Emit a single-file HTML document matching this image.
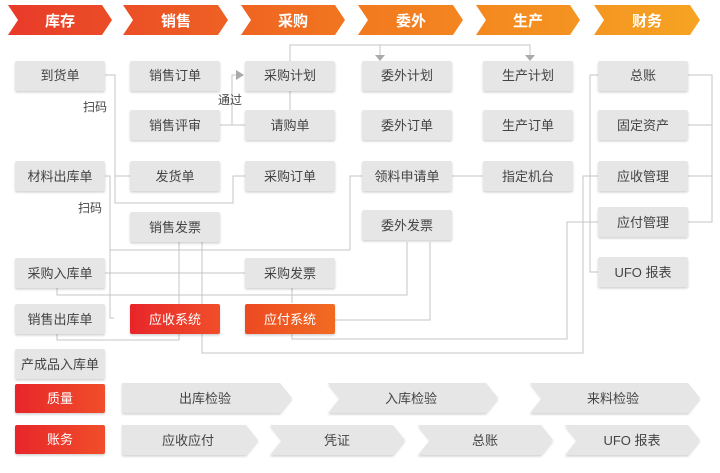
<!DOCTYPE html>
<html><head><meta charset="utf-8"><style>
body{margin:0;background:#fff;width:720px;height:468px;overflow:hidden}
svg text{font-family:"Liberation Sans","Noto Sans CJK SC",sans-serif}
</style></head><body>
<svg width="720" height="468" viewBox="0 0 720 468" xmlns="http://www.w3.org/2000/svg">
<defs>
<linearGradient id="hg" x1="0" x2="720" y1="0" y2="0" gradientUnits="userSpaceOnUse">
<stop offset="0" stop-color="#e8392a"/><stop offset="0.5" stop-color="#f2791f"/><stop offset="1" stop-color="#f6a623"/>
</linearGradient>
<linearGradient id="rg" x1="0" x2="1"><stop offset="0" stop-color="#e8262a"/><stop offset="1" stop-color="#f04e2c"/></linearGradient>
<linearGradient id="og" x1="0" x2="1"><stop offset="0" stop-color="#ec4a24"/><stop offset="1" stop-color="#f26b24"/></linearGradient>
<filter id="sh" x="-10%" y="-10%" width="120%" height="130%"><feDropShadow dx="0" dy="1.5" stdDeviation="1" flood-color="#000" flood-opacity="0.18"/></filter>
</defs>
<g fill="url(#hg)">
<polygon points="8,5 102,5 112,20 102,35 8,35 18,20"/>
<polygon points="123,5 218,5 228,20 218,35 123,35 133,20"/>
<polygon points="241,5 335,5 345,20 335,35 241,35 251,20"/>
<polygon points="358,5 453,5 463,20 453,35 358,35 368,20"/>
<polygon points="476,5 570,5 580,20 570,35 476,35 486,20"/>
<polygon points="594,5 690,5 700,20 690,35 594,35 604,20"/>
</g>
<g fill="#fff" font-size="15" font-weight="bold" text-anchor="middle">
<text x="60" y="26">库存</text><text x="176" y="26">销售</text><text x="293" y="26">采购</text>
<text x="411" y="26">委外</text><text x="528" y="26">生产</text><text x="647" y="26">财务</text>
</g>
<g stroke="#c4c4c4" stroke-width="1" fill="none">
<polyline points="290,61 290,45 530,45 530,55"/>
<line x1="380" y1="45" x2="380" y2="55"/>
<line x1="290" y1="91" x2="290" y2="110"/>
<polyline points="220,125 232,125 232,75 236,75"/>
<line x1="232" y1="125" x2="245" y2="125"/>
<polyline points="105,75 115,75 115,203 233,203 233,176 245,176"/>
<line x1="115" y1="176" x2="130" y2="176"/>
<polyline points="105,176 110,176 110,250 350,250 350,176 362,176"/>
<polyline points="110,250 110,318 114,318"/>
<line x1="452" y1="176" x2="483" y2="176"/>
<polyline points="179,242 179,340 57,340 57,334"/>
<polyline points="202,242 202,353 583,353 583,176 598,176"/>
<polyline points="292,334 292,339 567,339 567,222 598,222"/>
<polyline points="598,75 590,75 590,272 598,272"/>
<polyline points="688,75 712,75 712,222 688,222"/>
<line x1="688" y1="125" x2="712" y2="125"/>
<line x1="688" y1="176" x2="712" y2="176"/>
<line x1="105" y1="273" x2="245" y2="273"/>
<polyline points="57,288 57,295 407,295 407,242"/>
<polyline points="430,242 430,320 335,320"/>
<line x1="292" y1="288" x2="292" y2="303"/>
</g>
<g fill="#aaa">
<polygon points="375,55 385,55 380,61"/><polygon points="525,55 535,55 530,61"/>
<polygon points="236,70 236,80 244,75"/>
</g>
<g font-size="12" fill="#444"><text x="83" y="111">扫码</text><text x="78" y="212">扫码</text><text x="218" y="104">通过</text></g>
<g filter="url(#sh)" fill="#e6e6e6">
<rect x="15" y="61" width="90" height="30" rx="2"/>
<rect x="15" y="161" width="90" height="30" rx="2"/>
<rect x="15" y="258" width="90" height="30" rx="2"/>
<rect x="15" y="304" width="90" height="30" rx="2"/>
<rect x="15" y="349" width="90" height="30" rx="2"/>
<rect x="130" y="61" width="90" height="30" rx="2"/>
<rect x="130" y="110" width="90" height="30" rx="2"/>
<rect x="130" y="161" width="90" height="30" rx="2"/>
<rect x="130" y="212" width="90" height="30" rx="2"/>
<rect x="245" y="61" width="90" height="30" rx="2"/>
<rect x="245" y="110" width="90" height="30" rx="2"/>
<rect x="245" y="161" width="90" height="30" rx="2"/>
<rect x="245" y="258" width="90" height="30" rx="2"/>
<rect x="362" y="61" width="90" height="30" rx="2"/>
<rect x="362" y="110" width="90" height="30" rx="2"/>
<rect x="362" y="161" width="90" height="30" rx="2"/>
<rect x="362" y="210" width="90" height="30" rx="2"/>
<rect x="483" y="61" width="90" height="30" rx="2"/>
<rect x="483" y="110" width="90" height="30" rx="2"/>
<rect x="483" y="161" width="90" height="30" rx="2"/>
<rect x="598" y="61" width="90" height="30" rx="2"/>
<rect x="598" y="110" width="90" height="30" rx="2"/>
<rect x="598" y="161" width="90" height="30" rx="2"/>
<rect x="598" y="207" width="90" height="30" rx="2"/>
<rect x="598" y="257" width="90" height="30" rx="2"/>
<polygon points="122,383 280,383 292,398 280,413 122,413"/>
<polygon points="328,383 486,383 498,398 486,413 328,413 340,398"/>
<polygon points="530,383 688,383 700,398 688,413 530,413 542,398"/>
<polygon points="122,425 246,425 258,440 246,455 122,455"/>
<polygon points="270,425 393,425 405,440 393,455 270,455 282,440"/>
<polygon points="418,425 541,425 553,440 541,455 418,455 430,440"/>
<polygon points="565,425 688,425 700,440 688,455 565,455 577,440"/>
<rect x="130" y="304" width="90" height="30" rx="2" fill="url(#rg)"/>
<rect x="245" y="304" width="90" height="30" rx="2" fill="url(#og)"/>
<rect x="15" y="384" width="90" height="29" rx="2" fill="url(#rg)"/>
<rect x="15" y="425" width="90" height="29" rx="2" fill="url(#rg)"/>
</g>
<g font-size="13" fill="#444" text-anchor="middle">
<text x="60" y="80">到货单</text><text x="60" y="181">材料出库单</text><text x="60" y="278">采购入库单</text>
<text x="60" y="324">销售出库单</text><text x="60" y="369">产成品入库单</text>
<text x="175" y="80">销售订单</text><text x="175" y="130">销售评审</text><text x="175" y="181">发货单</text><text x="175" y="232">销售发票</text>
<text x="290" y="80">采购计划</text><text x="290" y="130">请购单</text><text x="290" y="181">采购订单</text><text x="290" y="278">采购发票</text>
<text x="407" y="80">委外计划</text><text x="407" y="130">委外订单</text><text x="407" y="181">领料申请单</text><text x="407" y="230">委外发票</text>
<text x="528" y="80">生产计划</text><text x="528" y="130">生产订单</text><text x="528" y="181">指定机台</text>
<text x="643" y="80">总账</text><text x="643" y="130">固定资产</text><text x="643" y="181">应收管理</text><text x="643" y="227">应付管理</text><text x="643" y="277">UFO 报表</text>
<text x="205" y="403">出库检验</text><text x="411" y="403">入库检验</text><text x="613" y="403">来料检验</text>
<text x="188" y="445">应收应付</text><text x="337" y="445">凭证</text><text x="485" y="445">总账</text><text x="632" y="445">UFO 报表</text>
</g>
<g font-size="13" fill="#fff" text-anchor="middle">
<text x="175" y="324">应收系统</text><text x="290" y="324">应付系统</text>
<text x="60" y="403">质量</text><text x="60" y="444">账务</text>
</g>
</svg>
</body></html>
